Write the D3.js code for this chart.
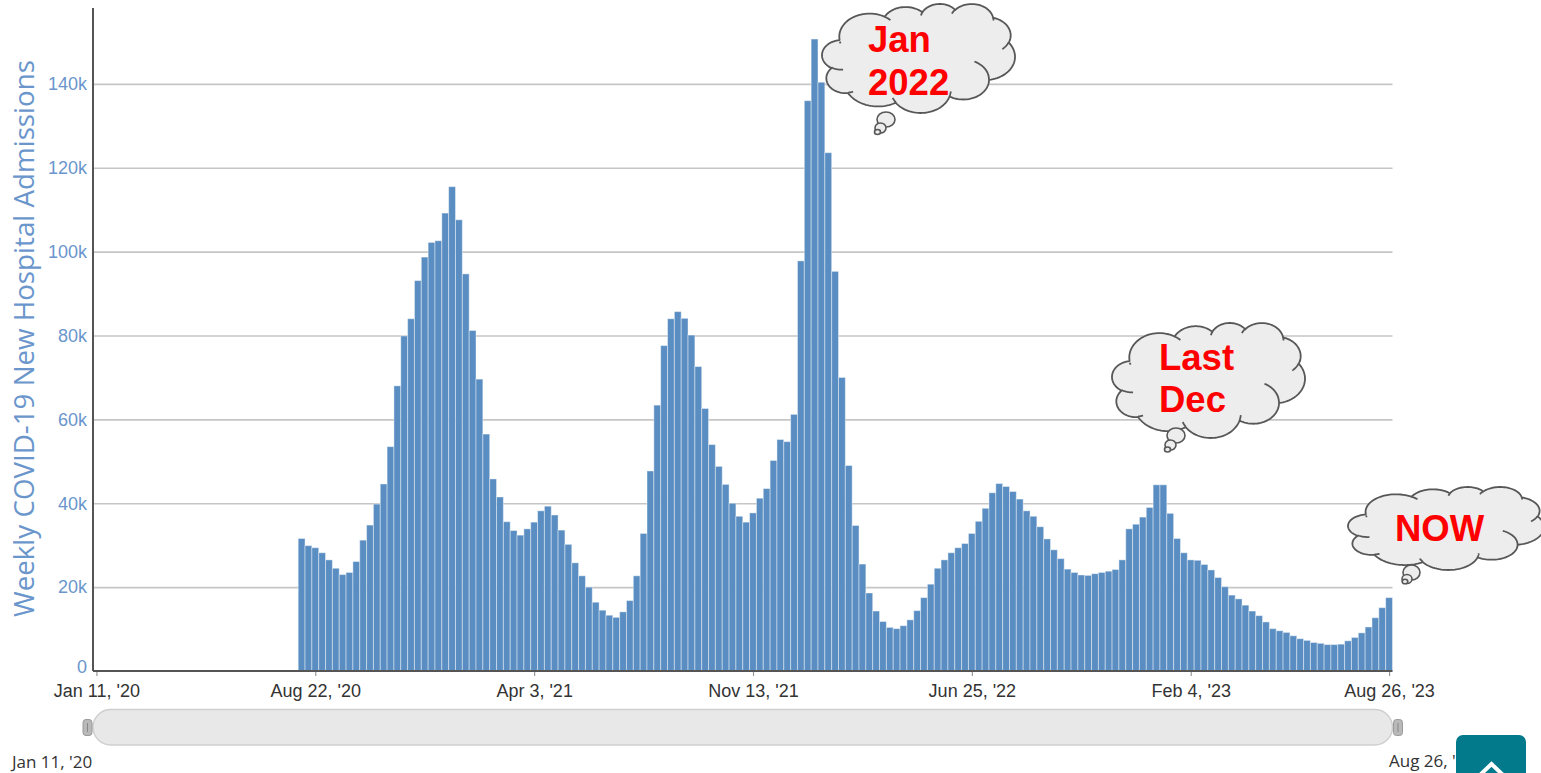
<!DOCTYPE html>
<html><head><meta charset="utf-8">
<script src="https://cdn.jsdelivr.net/npm/d3@7"></script>
<style>html,body{margin:0;padding:0;background:#fff;overflow:hidden}</style>
</head><body>
<svg id="chart" width="1541" height="773"></svg>
<script>
// ---------------- DATA ----------------
const firstWeek = "2020-08-08";           // week of first bar
const admissionsK = [                      // weekly admissions, thousands
 31.6,29.9,29.4,28.2,26.5,24.5,23.0,23.5,26.1,31.2,
 34.8,39.8,44.6,53.5,68.0,79.9,84.0,93.1,98.7,102.2,
 102.6,109.2,115.5,107.6,94.7,81.2,69.6,56.5,45.8,41.5,
 35.6,33.5,32.4,33.9,35.5,38.2,39.3,37.2,33.6,30.2,
 25.8,22.7,20.0,16.4,14.5,13.3,12.8,14.1,16.8,22.7,
 32.8,47.7,63.4,77.6,84.0,85.7,84.1,80.1,72.6,62.6,
 54.0,48.8,44.5,40.0,36.9,35.5,37.7,41.2,43.5,50.2,
 55.2,54.7,61.2,97.8,136.0,150.7,140.4,123.6,95.3,70.0,
 49.0,34.7,25.5,18.6,14.3,11.8,10.4,10.1,10.8,12.2,
 14.4,17.5,20.7,24.5,26.5,28.2,29.4,30.4,32.8,35.7,
 38.8,42.5,44.7,44.0,42.8,41.0,38.2,36.9,34.4,31.5,
 28.9,26.8,24.3,23.5,22.9,22.8,23.2,23.5,23.8,24.2,
 26.5,33.9,35.0,36.7,39.0,44.4,44.4,37.6,31.6,28.2,
 26.5,26.4,25.4,24.1,22.3,20.1,18.1,17.2,15.7,14.3,
 13.2,11.7,10.1,9.6,9.2,8.4,7.7,7.3,6.8,6.6,
 6.3,6.3,6.4,7.2,8.0,9.1,10.5,12.7,15.1,17.5
];
const xTickDates  = ["2020-01-11","2020-08-22","2021-04-03","2021-11-13","2022-06-25","2023-02-04","2023-08-26"];
const xTickLabels = ["Jan 11, '20","Aug 22, '20","Apr 3, '21","Nov 13, '21","Jun 25, '22","Feb 4, '23","Aug 26, '23"];
const yTickValues = [0,20,40,60,80,100,120,140];
const yTickLabels = ["0","20k","40k","60k","80k","100k","120k","140k"];
const yTitle = "Weekly COVID-19 New Hospital Admissions";
const navLabels = ["Jan 11, '20","Aug 26, '23"];
const noteTexts = [["Jan","2022"],["Last","Dec"],["NOW"]];

// ---------------- LAYOUT ----------------
const parse = d3.utcParse("%Y-%m-%d");
const svg = d3.select("#chart");
const L = 93, R = 1392.5, B = 671, T = 8;
const t0 = parse(xTickDates[0]), t1 = parse(xTickDates[xTickDates.length-1]);
const x = d3.scaleUtc().domain([d3.utcHour.offset(t0,-84), d3.utcHour.offset(t1,84)]).range([L,R]);
const y = d3.scaleLinear().domain([0,158.1]).range([B,T]);
const start = parse(firstWeek);
const bars = admissionsK.map((v,i)=>({date:d3.utcDay.offset(start,7*i), v}));

// gridlines
svg.append("g").attr("transform",`translate(${L},0)`)
  .call(d3.axisLeft(y).tickValues(yTickValues.slice(1)).tickSize(-(R-L)).tickFormat(""))
  .call(g=>g.select(".domain").remove())
  .call(g=>g.selectAll("line").attr("stroke","#c6c6c6").attr("stroke-width",1.6));

// bars
svg.append("g").selectAll("rect").data(bars).join("rect")
  .attr("x",d=>x(d3.utcHour.offset(d.date,-84)))
  .attr("width",d=>x(d3.utcHour.offset(d.date,84))-x(d3.utcHour.offset(d.date,-84)))
  .attr("y",d=>y(d.v)).attr("height",d=>B-y(d.v))
  .attr("fill","#5a8ec2").attr("stroke","#ffffff").attr("stroke-opacity",0.42).attr("stroke-width",1);

// y axis
const ya = svg.append("g").attr("transform",`translate(${L},0)`)
  .call(d3.axisLeft(y).tickValues(yTickValues).tickSize(0).tickPadding(6).tickFormat((d,i)=>yTickLabels[i]));
ya.select(".domain").remove();
ya.selectAll("text").attr("fill","#6a96cc").attr("font-size","18px").attr("font-family","'Liberation Sans',Arial,sans-serif");
ya.selectAll(".tick").filter(d=>d===0).select("text").attr("dy","0.1em");
svg.append("line").attr("x1",L).attr("x2",L).attr("y1",T).attr("y2",B).attr("stroke","#555").attr("stroke-width",2);

// x axis
const xa = svg.append("g").attr("transform",`translate(0,${B})`)
  .call(d3.axisBottom(x).tickValues(xTickDates.map(parse)).tickSize(5).tickPadding(8).tickFormat((d,i)=>xTickLabels[i]));
xa.select(".domain").remove();
xa.selectAll("line").attr("stroke","#999").attr("stroke-width",1.2);
xa.selectAll("text").attr("fill","#333").attr("font-size","18px").attr("font-family","'Liberation Sans',Arial,sans-serif");
svg.append("line").attr("x1",L).attr("x2",R).attr("y1",B).attr("y2",B).attr("stroke","#555").attr("stroke-width",2);

// y title, fitted to its length
const yt = svg.append("text").attr("transform","translate(34,338.5) rotate(-90)")
  .attr("text-anchor","middle").attr("fill","#6a96cc")
  .attr("font-family","'Open Sans',sans-serif").attr("font-size","20px").text(yTitle);
const len = yt.node().getComputedTextLength();
yt.attr("font-size",(20*557/len)+"px");

// navigator
svg.append("rect").attr("x",L).attr("y",709.5).attr("width",R-L).attr("height",35.5).attr("rx",17.75)
  .attr("fill","#e8e8e8").attr("stroke","#cfcfcf").attr("stroke-width",1.5);
[L-10,R+1].forEach(hx=>{
  const g = svg.append("g");
  g.append("rect").attr("x",hx).attr("y",719.5).attr("width",9).attr("height",16).attr("rx",3)
    .attr("fill","#b9b9b9").attr("stroke","#9a9a9a").attr("stroke-width",1);
  g.append("line").attr("x1",hx+4.5).attr("x2",hx+4.5).attr("y1",723).attr("y2",732).attr("stroke","#888").attr("stroke-width",1);
});
svg.append("text").attr("x",12).attr("y",768).attr("fill","#333").attr("font-size","17px")
  .attr("font-family","'Open Sans',sans-serif").text(navLabels[0]);
svg.append("text").attr("x",1389).attr("y",767).attr("fill","#333").attr("font-size","17px")
  .attr("font-family","'Open Sans',sans-serif").text(navLabels[1]);
svg.append("rect").attr("x",1456).attr("y",735).attr("width",70).attr("height",60).attr("rx",7).attr("fill","#037a8b");
svg.append("polyline").attr("points","1480,775 1491.5,764 1503,775").attr("fill","none").attr("stroke","#fff").attr("stroke-width",4);

// ---------------- CLOUD CALLOUTS ----------------
function arcPts(p,wR,hR,st,sw,visual,n){
  const toRad=a=>a/60000*Math.PI/180;
  let a0=toRad(st), a1=toRad(st+sw);
  if(visual){
    const tp=a=>Math.atan2(wR*Math.sin(a), hR*Math.cos(a));
    let q0=tp(a0), q1=tp(a1);
    if(sw>0){while(q1<q0)q1+=2*Math.PI;} else {while(q1>q0)q1-=2*Math.PI;}
    a0=q0;a1=q1;
  }
  const cx=p[0]-wR*Math.cos(a0), cy=p[1]-hR*Math.sin(a0);
  const out=[];
  for(let k=0;k<=n;k++){const t=a0+(a1-a0)*k/n; out.push([cx+wR*Math.cos(t), cy+hR*Math.sin(t)]);}
  return out;
}
const MAIN=[[6753,9190,-11429249,7426832],[5333,7267,-8646143,5396714],[4365,5945,-8748475,5983381],[4857,6595,-7859164,7034504],[5333,7273,-4722533,6541615],[6775,9220,-2776035,7816140],[5785,7867,37501,6842000],[6752,9215,1347096,6910353],[7720,10543,3974558,4542661],[4360,5918,-16496525,8804134],[4345,5945,-14809710,9151131]];
const INNER=[[4693,26177,4345,5945,5204520,1585770],[6928,34899,4360,5918,4416628,686848],[16478,39090,6752,9215,8257449,844866],[28827,34751,6752,9215,387196,959901],[34129,22954,5785,7867,-4217541,4255042],[41798,15354,5333,7273,1819082,1665090],[38324,5426,4857,6595,-824660,891534],[29078,3952,4857,6595,-8950887,1091722],[22141,4720,4365,5945,-9809656,1061181],[14000,5192,6753,9190,-4002417,739161],[4127,15789,6753,9190,9280368,363949]];
function mainPts(visual){
  let p=[3900,14370]; const pts=[p];
  for(const [wR,hR,st,sw] of MAIN){const s=arcPts(p,wR,hR,st,sw,visual,30); pts.push(...s.slice(1)); p=s[s.length-1];}
  return pts;
}
const cand=[false,true].map(v=>{const pts=mainPts(v);const e=pts[pts.length-1];return {v,pts,err:Math.hypot(e[0]-3900,e[1]-14370)};});
const best=cand[0].err<=cand[1].err?cand[0]:cand[1];
const bx=d3.extent(best.pts,d=>d[0]), by=d3.extent(best.pts,d=>d[1]);
const innerPts=INNER.map(([sx,sy,wR,hR,st,sw])=>arcPts([sx,sy],wR,hR,st,sw,best.v,12));

const clouds=[
  {box:[822,4,1015,113], bubbles:[[886,119.5,9,7.5],[880.5,128,5.5,5],[877.5,132,3,2.5]], tx:868, ty:[52,95]},
  {box:[1112,323,1305,438], bubbles:[[1176,435.5,9,7.5],[1170.5,445,5.5,5],[1167.5,449.5,3,2.5]], tx:1159, ty:[370,412]},
  {box:[1348,487,1544,570], bubbles:[[1411.5,572.5,8.5,7.5],[1407,579,5,4.5],[1405,581.5,2.8,2.3]], tx:1395, ty:[541]}
];
clouds.forEach((c,ci)=>{
  const sx=d3.scaleLinear().domain(bx).range([c.box[0],c.box[2]]);
  const sy=d3.scaleLinear().domain(by).range([c.box[1],c.box[3]]);
  const g=svg.append("g");
  const line=d3.line().x(d=>sx(d[0])).y(d=>sy(d[1]));
  g.append("path").attr("d",line(best.pts)+"Z").attr("fill","#ededed").attr("stroke","#575757").attr("stroke-width",1.8);
  innerPts.forEach(ip=>g.append("path").attr("d",line(ip)).attr("fill","none").attr("stroke","#575757").attr("stroke-width",1.8));
  c.bubbles.forEach(b=>g.append("ellipse").attr("cx",b[0]).attr("cy",b[1]).attr("rx",b[2]).attr("ry",b[3])
     .attr("fill","#ededed").attr("stroke","#575757").attr("stroke-width",1.6));
  noteTexts[ci].forEach((t,li)=>g.append("text").attr("x",c.tx).attr("y",c.ty[li]).text(t)
     .attr("fill","#ff0000").attr("font-weight","bold").attr("font-size","36.5px")
     .attr("font-family","'Liberation Sans',Arial,sans-serif"));
});
</script>
</body></html>
